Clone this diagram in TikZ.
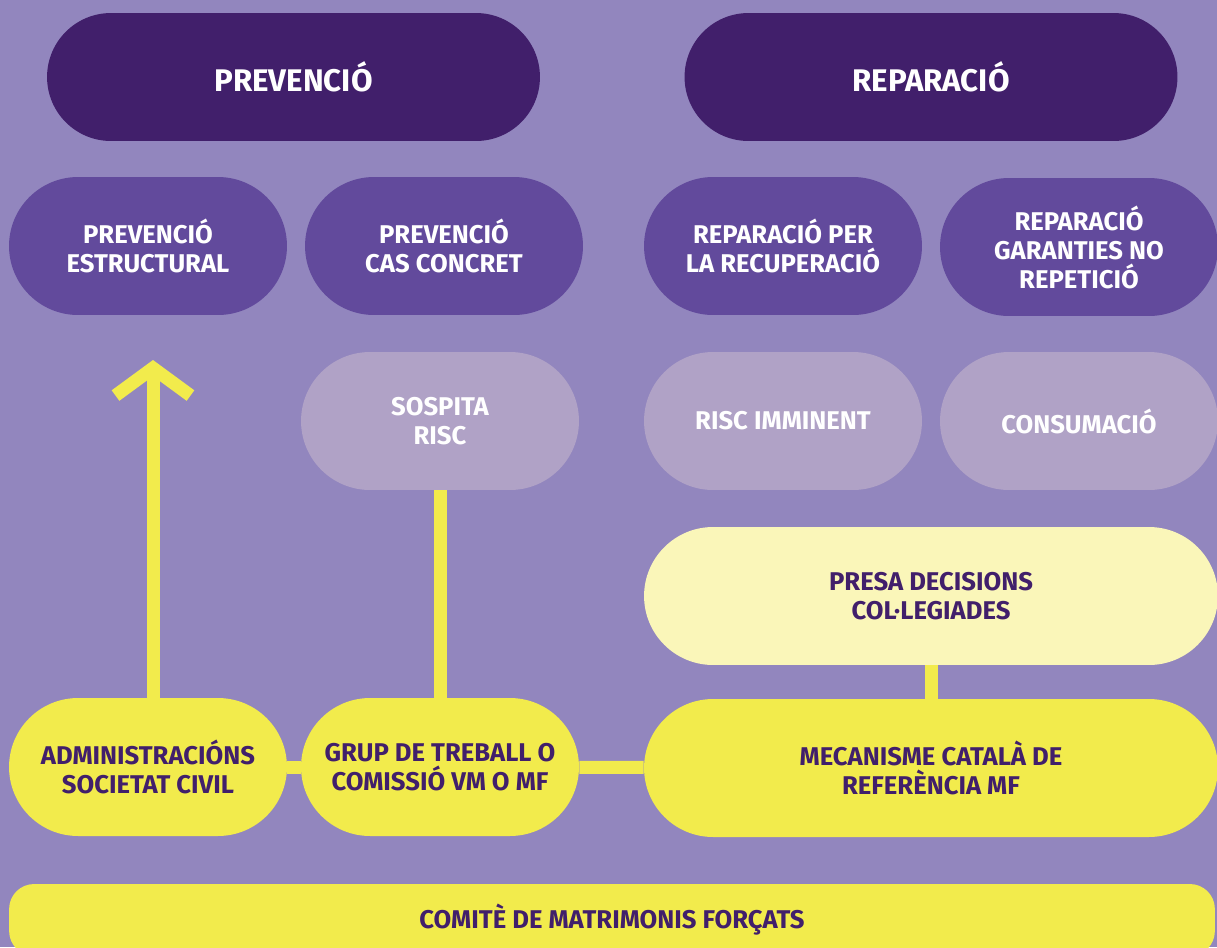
\documentclass[tikz,border=0pt]{standalone}
\usepackage{fontspec}
\setmainfont{Fira Sans}
\usetikzlibrary{arrows.meta}

\definecolor{bgviolet}{HTML}{9286BE}
\definecolor{darkviolet}{HTML}{411F6B}
\definecolor{midviolet}{HTML}{624A9C}
\definecolor{paleviolet}{HTML}{B0A2C6}
\definecolor{lineyellow}{HTML}{F2EB4C}
\definecolor{paleyellow}{HTML}{FAF6B9}

\begin{document}
\begin{tikzpicture}[x=0.02cm,y=-0.02cm,
    pill/.style={rectangle,rounded corners=1.38cm,minimum width=5.56cm,minimum height=2.76cm,
      inner sep=0pt,align=center,font=\bfseries\fontsize{14.6}{16.5}\selectfont},
    head/.style={pill,fill=darkviolet,text=white,minimum width=9.86cm,minimum height=2.56cm,
      rounded corners=1.28cm,font=\bfseries\fontsize{17.8}{20}\selectfont},
    kind/.style={pill,fill=midviolet,text=white},
    stage/.style={pill,fill=paleviolet,text=white},
    actor/.style={pill,fill=lineyellow,text=darkviolet},
    wide/.style={minimum width=11.48cm},
    link/.style={draw=lineyellow,line width=0.26cm}]
  \useasboundingbox (0,0) rectangle (1217,947);
  \clip (0,0) rectangle (1217,947);
  \fill[bgviolet] (0,0) rectangle (1217,947);

  % top headings
  \node[head] (prev) at (293.5,77) {PREVENCIÓ};
  \node[head] (rep) at (931,77) {REPARACIÓ};

  % kinds of action
  \node[kind] (prevest) at (148,246) {PREVENCIÓ\\ESTRUCTURAL};
  \node[kind] (prevcas) at (444,246) {PREVENCIÓ\\CAS CONCRET};
  \node[kind] (reprec) at (783,246) {REPARACIÓ PER\\LA RECUPERACIÓ};
  \node[kind] (repgar) at (1079,247) {REPARACIÓ\\GARANTIES NO\\REPETICIÓ};

  % stages
  \node[stage] (sosp) at (440,421) {SOSPITA\\RISC};
  \node[stage] (risc) at (783,421) {RISC IMMINENT};
  \node[stage] (cons) at (1079,421) {CONSUMACIÓ};

  \node[actor,wide,fill=paleyellow] (presa) at (931,596) {PRESA DECISIONS\\COL·LEGIADES};

  % actors
  \node[actor] (admin) at (148,767) {ADMINISTRACIÓNS\\SOCIETAT CIVIL};
  \node[actor] (grup) at (440,767) {GRUP DE TREBALL O\\COMISSIÓ VM O MF};
  \node[actor,wide] (mec) at (931,768) {MECANISME CATALÀ DE\\REFERÈNCIA MF};

  \node[actor,minimum width=24.12cm,minimum height=1.44cm,rounded corners=0.5cm] (comite) at (612,920) {COMITÈ DE MATRIMONIS FORÇATS};

  % connectors
  \coordinate (admtop) at (153,360);
  \draw[link,-{Straight Barb[length=0.55cm,width=1.5cm]}] (admin.north -| admtop) -- (admtop);
  \draw[link] (sosp) -- (grup);
  \draw[link] (admin) -- (grup);
  \draw[link] (grup) -- (mec);
  \draw[link] (presa) -- (mec);
\end{tikzpicture}
\end{document}
